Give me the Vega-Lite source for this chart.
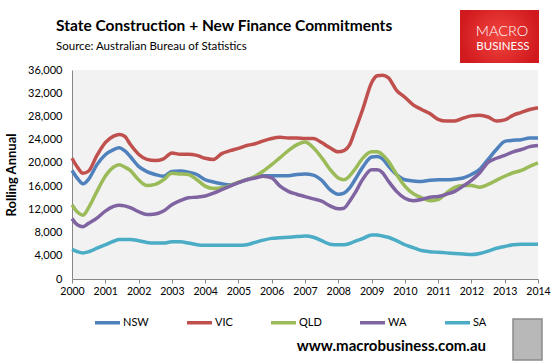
{
  "$schema": "https://vega.github.io/schema/vega-lite/v6.json",
  "width": 466,
  "height": 209,
  "autosize": {"type": "none"},
  "padding": {"left": 72, "top": 70, "right": 13, "bottom": 85},
  "background": "white",
  "config": {
    "view": {"fill": "#f2f2f2", "stroke": null},
    "font": "Lato",
    "axisX": {
      "grid": false,
      "domainColor": "#868686",
      "tickColor": "#868686",
      "tickSize": 4,
      "labelPadding": 3,
      "labelFont": "Lato",
      "labelFontSize": 10.5,
      "labelColor": "#000000",
      "labelFlush": false,
      "labelOverlap": false
    },
    "axisY": {
      "grid": false,
      "ticks": false,
      "domainColor": "#868686",
      "labelPadding": 10,
      "labelFont": "Lato",
      "labelFontSize": 11,
      "labelColor": "#000000",
      "labelOverlap": false,
      "labelFlush": false,
      "titleFont": "Lato",
      "titleFontSize": 13,
      "titleFontWeight": "bold",
      "titleColor": "#000000",
      "titlePadding": 9
    }
  },
  "title": {
    "text": "State Construction + New Finance Commitments",
    "subtitle": "Source: Australian Bureau of Statistics",
    "anchor": "start",
    "frame": "group",
    "dx": -16,
    "offset": -43,
    "font": "Lato",
    "fontSize": 15.5,
    "fontWeight": "bold",
    "color": "#000000",
    "subtitleFont": "Lato",
    "subtitleFontSize": 11.5,
    "subtitleColor": "#000000",
    "subtitlePadding": 7
  },
  "datasets": {
    "wide": [
      {"t": 2000.0, "NSW": 18700, "VIC": 20800, "QLD": 12800, "WA": 10400, "SA": 5100},
      {"t": 2000.17, "NSW": 17300, "VIC": 19200, "QLD": 11500, "WA": 9300, "SA": 4700},
      {"t": 2000.33, "NSW": 16400, "VIC": 18200, "QLD": 11000, "WA": 9000, "SA": 4500},
      {"t": 2000.5, "NSW": 17200, "VIC": 18600, "QLD": 12300, "WA": 9600, "SA": 4700},
      {"t": 2000.75, "NSW": 19700, "VIC": 21300, "QLD": 15100, "WA": 10500, "SA": 5300},
      {"t": 2001.0, "NSW": 21400, "VIC": 23500, "QLD": 17700, "WA": 11700, "SA": 5900},
      {"t": 2001.25, "NSW": 22300, "VIC": 24600, "QLD": 19300, "WA": 12500, "SA": 6500},
      {"t": 2001.42, "NSW": 22600, "VIC": 24900, "QLD": 19700, "WA": 12700, "SA": 6800},
      {"t": 2001.58, "NSW": 22100, "VIC": 24600, "QLD": 19300, "WA": 12600, "SA": 6800},
      {"t": 2001.75, "NSW": 21100, "VIC": 23200, "QLD": 18700, "WA": 12300, "SA": 6800},
      {"t": 2002.0, "NSW": 19400, "VIC": 21500, "QLD": 17100, "WA": 11600, "SA": 6600},
      {"t": 2002.25, "NSW": 18500, "VIC": 20600, "QLD": 16100, "WA": 11100, "SA": 6300},
      {"t": 2002.5, "NSW": 18000, "VIC": 20400, "QLD": 16300, "WA": 11200, "SA": 6200},
      {"t": 2002.75, "NSW": 17700, "VIC": 20700, "QLD": 17100, "WA": 11700, "SA": 6200},
      {"t": 2003.0, "NSW": 18500, "VIC": 21700, "QLD": 18200, "WA": 12800, "SA": 6400},
      {"t": 2003.25, "NSW": 18600, "VIC": 21500, "QLD": 18100, "WA": 13500, "SA": 6400},
      {"t": 2003.5, "NSW": 18400, "VIC": 21500, "QLD": 18000, "WA": 14000, "SA": 6200},
      {"t": 2003.75, "NSW": 18000, "VIC": 21300, "QLD": 17100, "WA": 14100, "SA": 5900},
      {"t": 2004.0, "NSW": 17100, "VIC": 20800, "QLD": 16000, "WA": 14300, "SA": 5800},
      {"t": 2004.25, "NSW": 16700, "VIC": 20600, "QLD": 15600, "WA": 14800, "SA": 5800},
      {"t": 2004.5, "NSW": 16400, "VIC": 21600, "QLD": 15700, "WA": 15400, "SA": 5800},
      {"t": 2004.75, "NSW": 16200, "VIC": 22100, "QLD": 16100, "WA": 16000, "SA": 5800},
      {"t": 2005.0, "NSW": 16600, "VIC": 22500, "QLD": 16700, "WA": 16600, "SA": 5800},
      {"t": 2005.25, "NSW": 17100, "VIC": 23000, "QLD": 17100, "WA": 17100, "SA": 5900},
      {"t": 2005.5, "NSW": 17500, "VIC": 23300, "QLD": 17700, "WA": 17400, "SA": 6300},
      {"t": 2005.75, "NSW": 17800, "VIC": 23800, "QLD": 18600, "WA": 17700, "SA": 6700},
      {"t": 2006.0, "NSW": 17800, "VIC": 24200, "QLD": 19700, "WA": 17400, "SA": 7000},
      {"t": 2006.25, "NSW": 17800, "VIC": 24400, "QLD": 20900, "WA": 16000, "SA": 7100},
      {"t": 2006.5, "NSW": 17800, "VIC": 24300, "QLD": 22100, "WA": 15100, "SA": 7200},
      {"t": 2006.75, "NSW": 18000, "VIC": 24300, "QLD": 23100, "WA": 14600, "SA": 7300},
      {"t": 2007.0, "NSW": 18100, "VIC": 24200, "QLD": 23600, "WA": 14200, "SA": 7400},
      {"t": 2007.25, "NSW": 17900, "VIC": 24200, "QLD": 22600, "WA": 13800, "SA": 7200},
      {"t": 2007.5, "NSW": 17000, "VIC": 23500, "QLD": 20900, "WA": 13400, "SA": 6600},
      {"t": 2007.75, "NSW": 15400, "VIC": 22600, "QLD": 18900, "WA": 12600, "SA": 6000},
      {"t": 2008.0, "NSW": 14600, "VIC": 21900, "QLD": 17400, "WA": 12100, "SA": 5900},
      {"t": 2008.17, "NSW": 14800, "VIC": 22100, "QLD": 17100, "WA": 12200, "SA": 5900},
      {"t": 2008.33, "NSW": 15600, "VIC": 23000, "QLD": 17700, "WA": 13300, "SA": 6100},
      {"t": 2008.5, "NSW": 17100, "VIC": 25500, "QLD": 18900, "WA": 14800, "SA": 6500},
      {"t": 2008.75, "NSW": 19400, "VIC": 29500, "QLD": 20900, "WA": 17300, "SA": 7000},
      {"t": 2009.0, "NSW": 21000, "VIC": 33800, "QLD": 21900, "WA": 18800, "SA": 7600},
      {"t": 2009.17, "NSW": 21100, "VIC": 35000, "QLD": 21900, "WA": 18800, "SA": 7600},
      {"t": 2009.33, "NSW": 20700, "VIC": 35100, "QLD": 21400, "WA": 18300, "SA": 7400},
      {"t": 2009.5, "NSW": 19500, "VIC": 34700, "QLD": 20300, "WA": 16900, "SA": 7200},
      {"t": 2009.75, "NSW": 18000, "VIC": 32500, "QLD": 18000, "WA": 15100, "SA": 6600},
      {"t": 2010.0, "NSW": 17100, "VIC": 31300, "QLD": 16000, "WA": 13900, "SA": 5900},
      {"t": 2010.25, "NSW": 16900, "VIC": 30000, "QLD": 14700, "WA": 13500, "SA": 5400},
      {"t": 2010.5, "NSW": 16800, "VIC": 29200, "QLD": 14000, "WA": 13700, "SA": 4900},
      {"t": 2010.75, "NSW": 17000, "VIC": 28500, "QLD": 13500, "WA": 14100, "SA": 4700},
      {"t": 2011.0, "NSW": 17100, "VIC": 27500, "QLD": 13700, "WA": 14200, "SA": 4600},
      {"t": 2011.25, "NSW": 17100, "VIC": 27200, "QLD": 14800, "WA": 14600, "SA": 4500},
      {"t": 2011.5, "NSW": 17200, "VIC": 27200, "QLD": 15800, "WA": 15100, "SA": 4400},
      {"t": 2011.75, "NSW": 17400, "VIC": 27700, "QLD": 16100, "WA": 16000, "SA": 4300},
      {"t": 2012.0, "NSW": 18000, "VIC": 28100, "QLD": 16100, "WA": 17000, "SA": 4200},
      {"t": 2012.25, "NSW": 18900, "VIC": 28200, "QLD": 15800, "WA": 18300, "SA": 4400},
      {"t": 2012.5, "NSW": 20600, "VIC": 27900, "QLD": 16300, "WA": 20100, "SA": 4800},
      {"t": 2012.75, "NSW": 22300, "VIC": 27200, "QLD": 17000, "WA": 20800, "SA": 5300},
      {"t": 2013.0, "NSW": 23700, "VIC": 27400, "QLD": 17700, "WA": 21300, "SA": 5600},
      {"t": 2013.25, "NSW": 23900, "VIC": 28200, "QLD": 18300, "WA": 21900, "SA": 5900},
      {"t": 2013.5, "NSW": 24000, "VIC": 28700, "QLD": 18700, "WA": 22300, "SA": 6000},
      {"t": 2013.75, "NSW": 24300, "VIC": 29200, "QLD": 19400, "WA": 22800, "SA": 6000},
      {"t": 2014.0, "NSW": 24300, "VIC": 29500, "QLD": 20000, "WA": 23000, "SA": 6000}
    ]
  },
  "layer": [
    {
      "data": {"name": "wide"},
      "transform": [{"fold": ["NSW", "VIC", "QLD", "WA", "SA"], "as": ["state", "value"]}],
      "mark": {"type": "line", "strokeWidth": 3.5, "interpolate": "monotone"},
      "encoding": {
        "x": {
          "field": "t",
          "type": "quantitative",
          "scale": {"domain": [2000, 2014], "nice": false, "zero": false},
          "axis": {"values": [2000, 2001, 2002, 2003, 2004, 2005, 2006, 2007, 2008, 2009, 2010, 2011, 2012, 2013, 2014], "format": "d", "title": null}
        },
        "y": {
          "field": "value",
          "type": "quantitative",
          "scale": {"domain": [0, 36000], "nice": false},
          "axis": {"values": [0, 4000, 8000, 12000, 16000, 20000, 24000, 28000, 32000, 36000], "format": ",d", "title": "Rolling Annual"}
        },
        "color": {
          "field": "state",
          "type": "nominal",
          "scale": {"domain": ["NSW", "VIC", "QLD", "WA", "SA"], "range": ["#4F81BD", "#C0504D", "#9BBB59", "#8064A2", "#4BACC6"]},
          "legend": {
            "orient": "none",
            "legendX": 21,
            "legendY": 238,
            "direction": "horizontal",
            "title": "www.macrobusiness.com.au",
            "titleOrient": "bottom",
            "titleAnchor": "end",
            "titleFont": "Lato",
            "titleFontSize": 15,
            "titleFontWeight": "bold",
            "titleColor": "#000000",
            "titleLimit": 0,
            "titlePadding": 9,
            "symbolType": "stroke",
            "symbolSize": 625,
            "symbolStrokeWidth": 3.5,
            "labelFont": "Lato",
            "labelFontSize": 11,
            "labelColor": "#000000",
            "labelOffset": 1,
            "columnPadding": 31,
            "gridAlign": "each"
          }
        }
      }
    },
    {
      "data": {"values": [{}]},
      "mark": {"type": "rect", "fill": {"gradient": "radial", "stops": [{"offset": 0, "color": "#f2453f"}, {"offset": 1, "color": "#d11a1e"}]}, "stroke": null},
      "encoding": {
        "x": {"datum": 2011.657, "type": "quantitative", "axis": {"values": [2000, 2001, 2002, 2003, 2004, 2005, 2006, 2007, 2008, 2009, 2010, 2011, 2012, 2013, 2014], "format": "d", "title": null}},
        "x2": {"datum": 2014.03},
        "y": {"datum": 46335, "type": "quantitative", "axis": {"values": [0, 4000, 8000, 12000, 16000, 20000, 24000, 28000, 32000, 36000], "format": ",d", "title": "Rolling Annual"}},
        "y2": {"datum": 37206}
      }
    },
    {
      "data": {"values": [{}]},
      "mark": {"type": "text", "text": "MACRO", "font": "Lato", "fontSize": 14.5, "fontWeight": 300, "color": "#ffffff", "align": "center", "baseline": "alphabetic"},
      "encoding": {
        "x": {"datum": 2012.918, "type": "quantitative", "axis": {"values": [2000, 2001, 2002, 2003, 2004, 2005, 2006, 2007, 2008, 2009, 2010, 2011, 2012, 2013, 2014], "format": "d", "title": null}},
        "y": {"datum": 41857, "type": "quantitative", "axis": {"values": [0, 4000, 8000, 12000, 16000, 20000, 24000, 28000, 32000, 36000], "format": ",d", "title": "Rolling Annual"}}
      }
    },
    {
      "data": {"values": [{}]},
      "mark": {"type": "text", "text": "BUSINESS", "font": "Lato", "fontSize": 11.5, "fontWeight": 400, "color": "#ffffff", "align": "center", "baseline": "alphabetic"},
      "encoding": {
        "x": {"datum": 2012.948, "type": "quantitative", "axis": {"values": [2000, 2001, 2002, 2003, 2004, 2005, 2006, 2007, 2008, 2009, 2010, 2011, 2012, 2013, 2014], "format": "d", "title": null}},
        "y": {"datum": 39445, "type": "quantitative", "axis": {"values": [0, 4000, 8000, 12000, 16000, 20000, 24000, 28000, 32000, 36000], "format": ",d", "title": "Rolling Annual"}}
      }
    },
    {
      "data": {"values": [{}]},
      "mark": {"type": "rect", "fill": "#b8b8b8", "stroke": "#8a8a8a", "strokeWidth": 1.5},
      "encoding": {
        "x": {"datum": 2013.249, "type": "quantitative", "axis": {"values": [2000, 2001, 2002, 2003, 2004, 2005, 2006, 2007, 2008, 2009, 2010, 2011, 2012, 2013, 2014], "format": "d", "title": null}},
        "x2": {"datum": 2014.12},
        "y": {"datum": -6890, "type": "quantitative", "axis": {"values": [0, 4000, 8000, 12000, 16000, 20000, 24000, 28000, 32000, 36000], "format": ",d", "title": "Rolling Annual"}},
        "y2": {"datum": -13952}
      }
    }
  ]
}
